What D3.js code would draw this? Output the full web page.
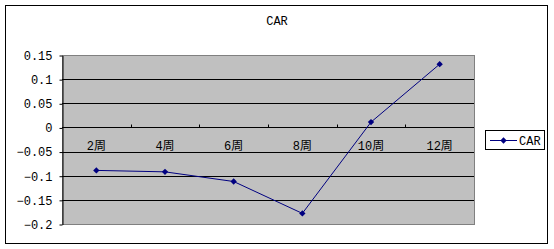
<!DOCTYPE html>
<html>
<head>
<meta charset="utf-8">
<script src="https://cdn.jsdelivr.net/npm/d3@7"></script>
<style>
  body { margin: 0; background: white; }
  text { font-family: "Liberation Mono", "Noto Sans CJK SC", monospace; font-size: 12px; fill: black; }
</style>
</head>
<body>
<div id="container"></div>
<script>
let w = 554;
let h = 249;

// data
let weeks = ["2周", "4周", "6周", "8周", "10周", "12周"];
let carValues = [-0.089, -0.092, -0.112, -0.178, 0.011, 0.131];
let yTicks = [0.15, 0.1, 0.05, 0, -0.05, -0.1, -0.15, -0.2];
let seriesName = "CAR";

let viz = d3.select("#container")
  .append("svg")
    .attr("width", w)
    .attr("height", h)
    .style("background-color", "white")
;

// outer chart border
viz.append("rect")
  .attr("x", 5.5)
  .attr("y", 5.5)
  .attr("width", 542)
  .attr("height", 238)
  .attr("fill", "white")
  .attr("stroke", "black")
  .attr("stroke-width", 1)
;

let plotLeft = 62, plotRight = 474, plotTop = 55, plotBottom = 224;

let xScale = d3.scaleBand().domain(weeks).range([plotLeft, plotRight]);
let yScale = d3.scaleLinear().domain([-0.2, 0.15]).range([plotBottom, plotTop]);

// plot area
viz.append("rect")
  .attr("x", plotLeft + 0.5)
  .attr("y", plotTop + 0.5)
  .attr("width", plotRight - plotLeft)
  .attr("height", plotBottom - plotTop)
  .attr("fill", "#c0c0c0")
  .attr("stroke", "#808080")
  .attr("stroke-width", 1)
;

// gridlines
viz.selectAll(".grid").data(yTicks.filter(d => d > -0.2 && d < 0.15)).enter()
  .append("line")
    .classed("grid", true)
    .attr("x1", plotLeft)
    .attr("x2", plotRight)
    .attr("y1", d => Math.round(yScale(d)) + 0.5)
    .attr("y2", d => Math.round(yScale(d)) + 0.5)
    .attr("stroke", "black")
    .attr("stroke-width", 1)
;

// y axis
let yAxis = d3.axisLeft(yScale)
  .tickValues(yTicks)
  .tickSize(3)
  .tickSizeOuter(0)
  .tickFormat(d => d3.format("")(+d.toFixed(2)));

let yAxisGroup = viz.append("g")
  .attr("transform", "translate(" + (plotLeft + 0.5) + ",0.5)")
  .call(yAxis);
yAxisGroup.select(".domain").attr("stroke", "black");
yAxisGroup.selectAll("line").attr("stroke", "black");
yAxisGroup.selectAll("text")
  .attr("x", -10)
  .style("font-size", "12px")
  .style("font-family", "\"Liberation Mono\", monospace");

// x axis along zero line, ticks on band edges pointing up
let y0 = Math.round(yScale(0)) + 0.5;
viz.selectAll(".xtick").data(weeks.slice(1)).enter()
  .append("line")
    .classed("xtick", true)
    .attr("x1", d => Math.round(xScale(d)) + 0.5)
    .attr("x2", d => Math.round(xScale(d)) + 0.5)
    .attr("y1", y0)
    .attr("y2", y0 - 3)
    .attr("stroke", "black")
;

viz.selectAll(".xlabel").data(weeks).enter()
  .append("text")
    .classed("xlabel", true)
    .text(d => d)
    .attr("x", d => xScale(d) + xScale.bandwidth() / 2)
    .attr("y", y0 + 22)
    .attr("text-anchor", "middle")
;

// line
let line = d3.line()
  .x((d, i) => xScale(weeks[i]) + xScale.bandwidth() / 2)
  .y(d => yScale(d));

viz.append("path")
  .datum(carValues)
  .attr("d", line)
  .attr("fill", "none")
  .attr("stroke", "#000080")
  .attr("stroke-width", 1)
;

let diamond = d3.symbol().type(d3.symbolSquare).size(20);

viz.selectAll(".marker").data(carValues).enter()
  .append("path")
    .classed("marker", true)
    .attr("d", diamond)
    .attr("transform", (d, i) => "translate(" + (xScale(weeks[i]) + xScale.bandwidth() / 2) + "," + yScale(d) + ") rotate(45)")
    .attr("fill", "#000080")
;

// title
viz.append("text")
  .text(seriesName)
  .attr("x", 277)
  .attr("y", 25)
  .attr("text-anchor", "middle")
;

// legend
let legend = viz.append("g").attr("transform", "translate(485,130)");
legend.append("rect")
  .attr("x", 0.5)
  .attr("y", 0.5)
  .attr("width", 59)
  .attr("height", 19)
  .attr("fill", "white")
  .attr("stroke", "black")
;
legend.append("line")
  .attr("x1", 5)
  .attr("x2", 32)
  .attr("y1", 10.5)
  .attr("y2", 10.5)
  .attr("stroke", "#000080")
;
legend.append("path")
  .attr("d", diamond)
  .attr("transform", "translate(18.5,10.5) rotate(45)")
  .attr("fill", "#000080")
;
legend.append("text")
  .text(seriesName)
  .attr("x", 34)
  .attr("y", 15)
;
</script>
</body>
</html>
